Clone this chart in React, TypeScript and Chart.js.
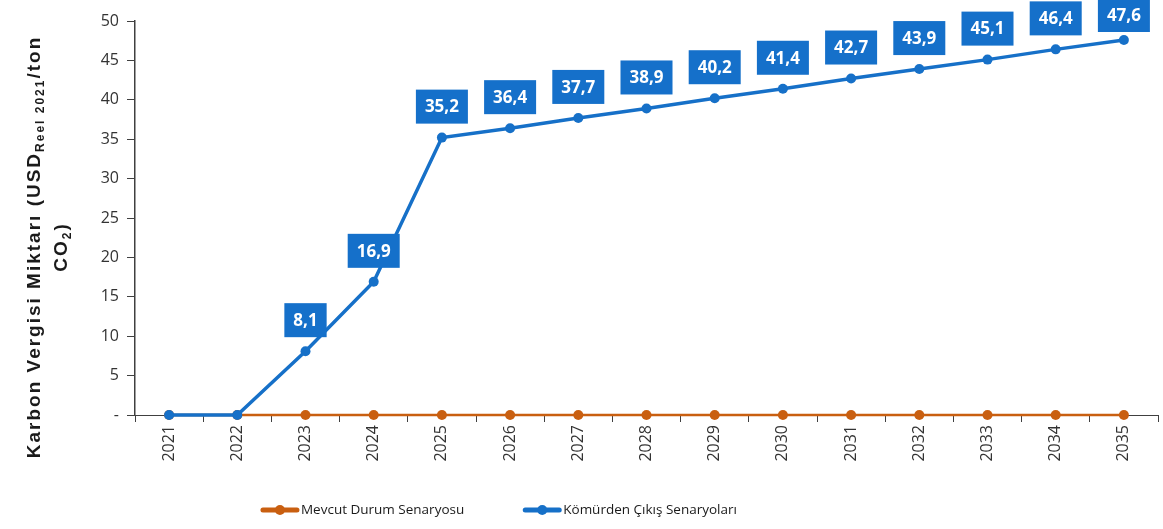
import React, { useEffect, useRef } from 'react';
import { Chart, registerables } from 'chart.js';

Chart.register(...registerables);

const years = ['2021', '2022', '2023', '2024', '2025', '2026', '2027', '2028', '2029', '2030', '2031', '2032', '2033', '2034', '2035'];
const mevcutDurum = [0, 0, 0, 0, 0, 0, 0, 0, 0, 0, 0, 0, 0, 0, 0];
const komurdenCikis = [0, 0, 8.1, 16.9, 35.2, 36.4, 37.7, 38.9, 40.2, 41.4, 42.7, 43.9, 45.1, 46.4, 47.6];
const seriesNames = ['Mevcut Durum Senaryosu', 'Kömürden Çıkış Senaryoları'];

const BLUE = '#1670C8';
const BOX_BLUE = '#1570CA';
const ORANGE = '#C95F10';
const AXIS = '#404040';
const FONT = '"Open Sans", "DejaVu Sans", sans-serif';
const TITLE_FONT = '"Liberation Sans", Arial, sans-serif';

const boxLabels = {
  id: 'boxLabels',
  afterDatasetsDraw(chart: any) {
    const meta = chart.getDatasetMeta(1);
    const ctx = chart.ctx as CanvasRenderingContext2D;
    ctx.save();
    ctx.font = `bold 17px ${FONT}`;
    meta.data.forEach((pt: any, i: number) => {
      const v = komurdenCikis[i];
      if (!v) return;
      const text = v.toFixed(1).replace('.', ',');
      const w = ctx.measureText(text).width + 18;
      const h = 34;
      let top = pt.y - 14 - h;
      if (top < -2) top = -2;
      ctx.fillStyle = BOX_BLUE;
      ctx.fillRect(pt.x - w / 2, top, w, h);
      ctx.fillStyle = '#ffffff';
      ctx.textAlign = 'center';
      ctx.textBaseline = 'middle';
      ctx.fillText(text, pt.x, top + h / 2 + 1);
    });
    ctx.restore();
  },
};

const yTitle = {
  id: 'yTitle',
  afterDraw(chart: any) {
    const ctx = chart.ctx as CanvasRenderingContext2D;
    const main = `bold 19px ${TITLE_FONT}`;
    const sub = `bold 12px ${TITLE_FONT}`;
    const line1: [string, boolean][] = [['Karbon Vergisi Miktarı (USD', false], ['Reel 2021', true], ['/ton', false]];
    const line2: [string, boolean][] = [['CO', false], ['2', true], [')', false]];
    const cy = (chart.chartArea.top + chart.chartArea.bottom) / 2 + 29;
    ctx.save();
    (ctx as any).letterSpacing = '2px';
    const drawLine = (parts: [string, boolean][], x: number) => {
      let total = 0;
      parts.forEach(([t, s]) => {
        ctx.font = s ? sub : main;
        total += ctx.measureText(t).width;
      });
      ctx.save();
      ctx.translate(x, cy);
      ctx.rotate(-Math.PI / 2);
      ctx.fillStyle = '#1a1a1a';
      ctx.textBaseline = 'alphabetic';
      ctx.textAlign = 'left';
      let pos = -total / 2;
      parts.forEach(([t, s]) => {
        ctx.font = s ? sub : main;
        ctx.fillText(t, pos, s ? 10 : 6);
        pos += ctx.measureText(t).width;
      });
      ctx.restore();
    };
    drawLine(line1, 34);
    drawLine(line2, 61);
    ctx.restore();
  },
};

const customLegend = {
  id: 'customLegend',
  afterDraw(chart: any) {
    const ctx = chart.ctx as CanvasRenderingContext2D;
    const colors = [ORANGE, BLUE];
    const y = 510;
    const markerW = 38;
    const gapText = 2;
    const gapItems = 59;
    ctx.save();
    ctx.font = `13.5px ${FONT}`;
    const widths = seriesNames.map((n) => markerW + gapText + ctx.measureText(n).width);
    const total = widths[0] + widths[1] + gapItems;
    let x = chart.width * 0.429 - total / 2;
    seriesNames.forEach((name, i) => {
      const c = colors[i];
      ctx.strokeStyle = c;
      ctx.lineWidth = 5;
      ctx.lineCap = 'round';
      ctx.beginPath();
      ctx.moveTo(x + 2, y);
      ctx.lineTo(x + markerW - 2, y);
      ctx.stroke();
      ctx.fillStyle = c;
      ctx.beginPath();
      ctx.arc(x + markerW / 2, y, 5, 0, Math.PI * 2);
      ctx.fill();
      ctx.fillStyle = '#1a1a1a';
      ctx.textAlign = 'left';
      ctx.textBaseline = 'middle';
      ctx.fillText(name, x + markerW + gapText, y);
      x += widths[i] + gapItems;
    });
    ctx.restore();
  },
};

export default function App() {
  const ref = useRef<HTMLCanvasElement>(null);
  useEffect(() => {
    const chart = new Chart(ref.current!, {
      type: 'line',
      data: {
        labels: years,
        datasets: [
          {
            label: seriesNames[0],
            data: mevcutDurum,
            borderColor: ORANGE,
            backgroundColor: ORANGE,
            borderWidth: 2.5,
            pointRadius: 5,
            pointBorderWidth: 0,
            pointBackgroundColor: ORANGE,
            order: 1,
            clip: false,
          },
          {
            label: seriesNames[1],
            data: komurdenCikis,
            borderColor: BLUE,
            backgroundColor: BLUE,
            borderWidth: 3.5,
            pointRadius: 5,
            pointBorderWidth: 0,
            pointBackgroundColor: BLUE,
            order: 0,
            clip: false,
          },
        ],
      },
      options: {
        animation: false,
        responsive: true,
        maintainAspectRatio: false,
        layout: { padding: { left: 0, top: 21, right: 2, bottom: 0 } },
        plugins: {
          tooltip: { enabled: false },
          legend: { display: false },
        },
        scales: {
          x: {
            offset: true,
            grid: { display: true, drawOnChartArea: false, drawTicks: true, tickLength: 7, color: AXIS, offset: true },
            border: { color: AXIS, width: 1 },
            ticks: { minRotation: 90, maxRotation: 90, color: '#333333', font: { family: FONT, size: 16 }, padding: 3 },
            afterFit: (s: any) => {
              s.height = 114;
            },
          },
          y: {
            min: 0,
            max: 50,
            grid: { display: true, drawOnChartArea: false, drawTicks: true, tickLength: 8, color: AXIS },
            border: { color: AXIS, width: 1.5 },
            ticks: {
              stepSize: 5,
              color: '#333333',
              font: { family: FONT, size: 16 },
              padding: 8,
              callback: (v: any) => (v === 0 ? '-' : String(v)),
            },
            afterFit: (s: any) => {
              s.width = 135;
            },
          },
        },
      },
      plugins: [boxLabels, yTitle, customLegend],
    });
    return () => chart.destroy();
  }, []);
  return (
    <div style={{ position: 'fixed', left: 0, top: 0, width: 1163, height: 529, background: '#fff' }}>
      <canvas ref={ref} />
    </div>
  );
}
